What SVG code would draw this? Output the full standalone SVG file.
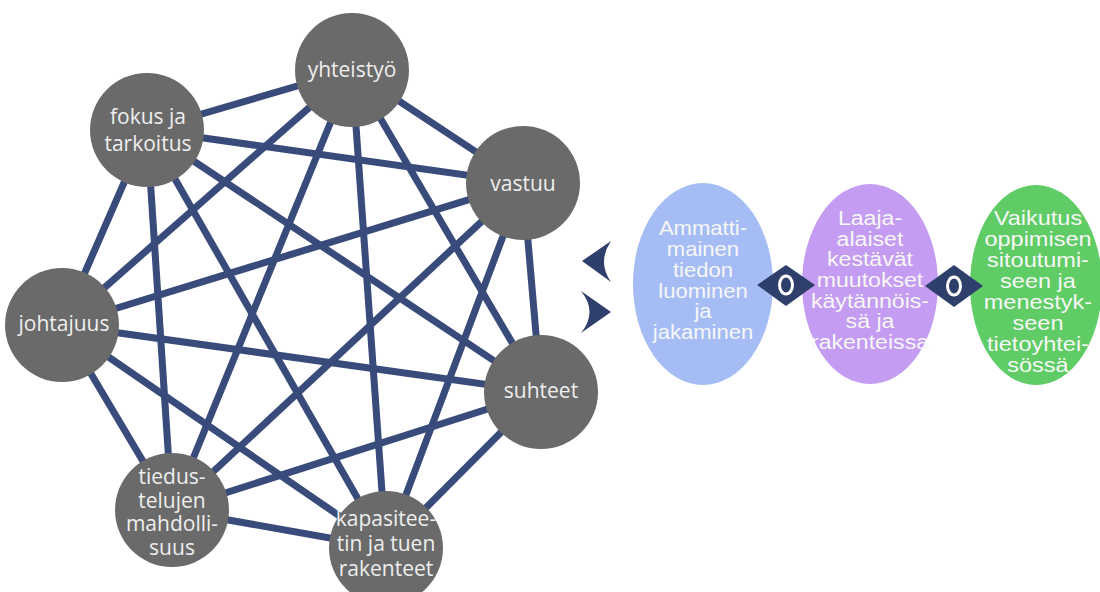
<svg xmlns="http://www.w3.org/2000/svg" width="1100" height="592" viewBox="0 0 1100 592">
  <style>
    .edge { stroke: #384b7a; stroke-width: 7; stroke-linecap: butt; }
    .node { fill: #6a6a6a; }
    .nl { font-family: "Open Sans", "DejaVu Sans", sans-serif; font-size: 21px; fill: #eeeeee; text-anchor: middle; }
    .ol { font-family: "Liberation Sans", Arial, sans-serif; font-size: 21px; fill: #f7f7f7; text-anchor: middle; }
    .link { fill: #2f3f6b; }
    .ring { fill: none; stroke: #ffffff; stroke-width: 3; }
  </style>

  <!-- connectors of the seven-node network -->
  <g id="connectors">
    <line class="edge" x1="352" y1="70" x2="147" y2="130"/>
    <line class="edge" x1="352" y1="70" x2="523" y2="183"/>
    <line class="edge" x1="352" y1="70" x2="62" y2="325"/>
    <line class="edge" x1="352" y1="70" x2="541" y2="392"/>
    <line class="edge" x1="352" y1="70" x2="172" y2="510"/>
    <line class="edge" x1="352" y1="70" x2="386" y2="548"/>
    <line class="edge" x1="147" y1="130" x2="523" y2="183"/>
    <line class="edge" x1="147" y1="130" x2="62" y2="325"/>
    <line class="edge" x1="147" y1="130" x2="541" y2="392"/>
    <line class="edge" x1="147" y1="130" x2="172" y2="510"/>
    <line class="edge" x1="147" y1="130" x2="386" y2="548"/>
    <line class="edge" x1="523" y1="183" x2="62" y2="325"/>
    <line class="edge" x1="523" y1="183" x2="541" y2="392"/>
    <line class="edge" x1="523" y1="183" x2="172" y2="510"/>
    <line class="edge" x1="523" y1="183" x2="386" y2="548"/>
    <line class="edge" x1="62" y1="325" x2="541" y2="392"/>
    <line class="edge" x1="62" y1="325" x2="172" y2="510"/>
    <line class="edge" x1="62" y1="325" x2="386" y2="548"/>
    <line class="edge" x1="541" y1="392" x2="172" y2="510"/>
    <line class="edge" x1="541" y1="392" x2="386" y2="548"/>
    <line class="edge" x1="172" y1="510" x2="386" y2="548"/>
  </g>

  <g id="node-yhteistyo">
    <circle class="node" cx="352" cy="70" r="57"/>
    <text class="nl" x="352" y="77">yhteistyö</text>
  </g>
  <g id="node-fokus">
    <circle class="node" cx="147" cy="130" r="57"/>
    <text class="nl" x="148" y="124">fokus ja</text>
    <text class="nl" x="148" y="151">tarkoitus</text>
  </g>
  <g id="node-vastuu">
    <circle class="node" cx="523" cy="183" r="57"/>
    <text class="nl" x="523" y="191">vastuu</text>
  </g>
  <g id="node-johtajuus">
    <circle class="node" cx="62" cy="325" r="57"/>
    <text class="nl" x="64" y="331">johtajuus</text>
  </g>
  <g id="node-suhteet">
    <circle class="node" cx="541" cy="392" r="57"/>
    <text class="nl" x="541" y="398">suhteet</text>
  </g>
  <g id="node-tiedustelut">
    <circle class="node" cx="172" cy="510" r="57"/>
    <text class="nl" x="172" y="484">tiedus-</text>
    <text class="nl" x="172" y="508">telujen</text>
    <text class="nl" x="172" y="531">mahdolli-</text>
    <text class="nl" x="172" y="555">suus</text>
  </g>
  <g id="node-kapasiteetti">
    <circle class="node" cx="386" cy="548" r="57"/>
    <text class="nl" x="386" y="526">kapasitee-</text>
    <text class="nl" x="386" y="551">tin ja tuen</text>
    <text class="nl" x="386" y="576">rakenteet</text>
  </g>

  <!-- split link shape leading into the outcome chain -->
  <g id="link-entry">
    <path class="link" d="M582,261 L611,241 Q597,262 611,282 Z"/>
    <path class="link" d="M581,291 L611,312 L581,333 Q598,312 581,291 Z"/>
  </g>

  <g id="outcome-knowledge">
    <ellipse cx="703" cy="284" rx="70" ry="101" fill="#a5bdf4"/>
    <g transform="translate(703,0) scale(1.05,1) translate(-703,0)">
      <text class="ol" x="703" y="235">Ammatti-</text>
      <text class="ol" x="703" y="256">mainen</text>
      <text class="ol" x="703" y="277">tiedon</text>
      <text class="ol" x="703" y="298">luominen</text>
      <text class="ol" x="703" y="318">ja</text>
      <text class="ol" x="703" y="339">jakaminen</text>
    </g>
  </g>
  <g id="outcome-change">
    <ellipse cx="870" cy="284" rx="68" ry="100" fill="#c49df2"/>
    <g transform="translate(870,0) scale(1.1,1) translate(-870,0)">
      <text class="ol" x="870" y="225">Laaja-</text>
      <text class="ol" x="870" y="246">alaiset</text>
      <text class="ol" x="870" y="266">kestävät</text>
      <text class="ol" x="870" y="287">muutokset</text>
      <text class="ol" x="870" y="308">käytännöis-</text>
      <text class="ol" x="870" y="328">sä ja</text>
      <text class="ol" x="870" y="349">rakenteissa</text>
    </g>
  </g>
  <g id="outcome-impact">
    <ellipse cx="1036" cy="285" rx="66" ry="100" fill="#5fcc66"/>
    <g transform="translate(1038,0) scale(1.12,1) translate(-1038,0)">
      <text class="ol" x="1038" y="225">Vaikutus</text>
      <text class="ol" x="1038" y="246">oppimisen</text>
      <text class="ol" x="1038" y="267">sitoutumi-</text>
      <text class="ol" x="1038" y="288">seen ja</text>
      <text class="ol" x="1038" y="309">menestyk-</text>
      <text class="ol" x="1038" y="330">seen</text>
      <text class="ol" x="1038" y="351">tietoyhtei-</text>
      <text class="ol" x="1038" y="372">sössä</text>
    </g>
  </g>

  <!-- diamond links between outcomes -->
  <g id="link-1">
    <path class="link" d="M757,285 L786,265 L815,285 L786,306 Z"/>
    <ellipse class="ring" cx="786" cy="285" rx="6.5" ry="9"/>
  </g>
  <g id="link-2">
    <path class="link" d="M925,286 L954,265 L983,286 L954,307 Z"/>
    <ellipse class="ring" cx="954" cy="286" rx="6.5" ry="9"/>
  </g>
</svg>
